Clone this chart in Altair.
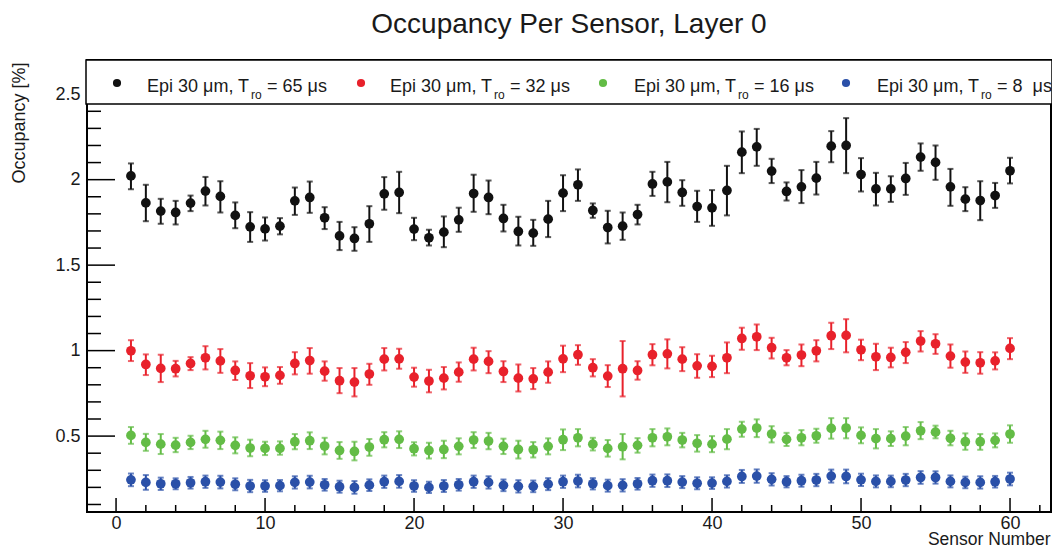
import altair as alt
import pandas as pd

# ---------------- data ----------------
sensors = list(range(1, 61))

black_val = [2.022,1.864,1.816,1.808,1.863,1.933,1.902,1.791,1.724,1.712,1.728,1.876,1.896,1.777,1.671,1.656,1.742,1.917,1.925,1.711,
             1.660,1.693,1.765,1.919,1.896,1.773,1.697,1.687,1.769,1.921,1.970,1.820,1.720,1.728,1.796,1.975,1.987,1.925,1.843,1.835,
             1.937,2.161,2.192,2.050,1.931,1.958,2.009,2.196,2.200,2.030,1.946,1.946,2.007,2.132,2.101,1.958,1.886,1.878,1.907,2.052]
black_hi = [2.095,1.970,1.888,1.876,1.907,2.016,1.991,1.867,1.810,1.779,1.775,1.954,1.989,1.839,1.753,1.722,1.845,2.015,2.046,1.777,
            1.707,1.785,1.836,2.029,1.995,1.853,1.783,1.765,1.876,2.026,2.060,1.861,1.818,1.808,1.853,2.046,2.104,1.997,1.935,1.939,
            2.081,2.282,2.297,2.122,1.984,2.056,2.104,2.284,2.360,2.126,2.040,2.020,2.098,2.212,2.200,2.063,1.956,1.991,1.981,2.128]
black_lo = [1.944,1.757,1.742,1.738,1.816,1.849,1.808,1.716,1.636,1.644,1.680,1.794,1.806,1.711,1.588,1.584,1.636,1.824,1.804,1.646,
            1.615,1.605,1.695,1.812,1.798,1.697,1.615,1.613,1.664,1.816,1.876,1.777,1.627,1.648,1.738,1.905,1.868,1.847,1.753,1.730,
            1.791,2.038,2.081,1.980,1.878,1.863,1.913,2.102,2.038,1.931,1.849,1.870,1.911,2.052,1.999,1.847,1.816,1.763,1.835,1.978]

red_val = [0.999,0.919,0.896,0.894,0.925,0.958,0.940,0.884,0.853,0.847,0.855,0.925,0.942,0.880,0.824,0.816,0.863,0.950,0.952,0.845,
           0.822,0.839,0.874,0.950,0.937,0.878,0.839,0.835,0.874,0.952,0.976,0.900,0.851,0.894,0.884,0.976,0.981,0.950,0.911,0.908,
           0.958,1.071,1.081,1.017,0.958,0.974,0.999,1.087,1.089,1.005,0.964,0.960,0.990,1.056,1.040,0.968,0.933,0.929,0.940,1.013]
red_hi = [1.061,0.978,0.976,0.940,0.962,1.026,1.009,0.937,0.927,0.902,0.904,0.991,1.015,0.937,0.898,0.898,0.923,1.015,1.011,0.900,
          0.888,0.904,0.931,1.017,0.997,0.938,0.919,0.898,0.937,1.029,1.032,0.950,0.915,1.056,0.938,1.038,1.066,1.020,0.979,0.970,
          1.048,1.134,1.153,1.075,1.003,1.036,1.061,1.163,1.184,1.064,1.040,1.017,1.050,1.114,1.096,1.036,0.995,0.991,0.990,1.073]
red_lo = [0.939,0.857,0.816,0.849,0.886,0.890,0.870,0.828,0.781,0.792,0.806,0.861,0.865,0.824,0.751,0.732,0.800,0.884,0.894,0.789,
          0.756,0.773,0.818,0.884,0.868,0.816,0.761,0.775,0.812,0.874,0.917,0.849,0.787,0.732,0.830,0.914,0.896,0.880,0.841,0.845,
          0.868,1.005,1.003,0.954,0.914,0.909,0.937,1.009,0.990,0.944,0.886,0.902,0.927,0.995,0.981,0.900,0.870,0.865,0.890,0.950]

green_val = [0.504,0.463,0.453,0.447,0.463,0.481,0.475,0.446,0.430,0.428,0.428,0.467,0.473,0.442,0.416,0.410,0.436,0.479,0.481,0.426,
             0.416,0.422,0.440,0.477,0.471,0.440,0.422,0.420,0.440,0.479,0.490,0.453,0.428,0.438,0.446,0.490,0.496,0.477,0.458,0.453,
             0.482,0.541,0.547,0.512,0.481,0.490,0.502,0.545,0.547,0.504,0.485,0.485,0.500,0.531,0.523,0.487,0.467,0.467,0.475,0.512]
green_hi = [0.553,0.513,0.512,0.490,0.502,0.531,0.526,0.493,0.479,0.467,0.469,0.512,0.522,0.490,0.465,0.467,0.483,0.523,0.528,0.464,
            0.461,0.473,0.487,0.523,0.519,0.485,0.473,0.465,0.487,0.539,0.541,0.490,0.477,0.512,0.488,0.541,0.545,0.519,0.506,0.500,
            0.541,0.584,0.598,0.558,0.519,0.535,0.543,0.605,0.605,0.551,0.541,0.528,0.553,0.582,0.561,0.531,0.516,0.512,0.516,0.563]
green_lo = [0.455,0.414,0.395,0.406,0.424,0.432,0.424,0.399,0.382,0.389,0.391,0.423,0.424,0.393,0.367,0.358,0.385,0.434,0.430,0.387,
            0.369,0.371,0.393,0.430,0.423,0.395,0.369,0.375,0.393,0.418,0.440,0.416,0.380,0.364,0.403,0.440,0.446,0.434,0.409,0.406,
            0.423,0.496,0.494,0.463,0.442,0.446,0.461,0.485,0.487,0.458,0.428,0.442,0.446,0.482,0.487,0.446,0.420,0.420,0.434,0.461]

blue_val = [0.244,0.229,0.221,0.221,0.227,0.233,0.231,0.218,0.208,0.208,0.210,0.229,0.231,0.215,0.204,0.200,0.213,0.233,0.235,0.208,
            0.200,0.208,0.215,0.233,0.229,0.212,0.206,0.206,0.219,0.233,0.237,0.221,0.210,0.212,0.221,0.239,0.239,0.231,0.224,0.225,
            0.235,0.264,0.266,0.247,0.233,0.239,0.243,0.266,0.264,0.244,0.235,0.235,0.243,0.258,0.258,0.235,0.229,0.229,0.233,0.249]
blue_err = [0.037,0.043,0.036,0.032,0.034,0.036,0.037,0.035,0.036,0.034,0.033,0.036,0.037,0.034,0.035,0.037,0.034,0.036,0.037,0.034,
            0.033,0.035,0.034,0.036,0.036,0.034,0.036,0.034,0.035,0.036,0.037,0.033,0.035,0.036,0.034,0.036,0.037,0.035,0.035,0.034,
            0.036,0.038,0.039,0.036,0.033,0.035,0.036,0.038,0.040,0.036,0.035,0.034,0.036,0.037,0.036,0.035,0.034,0.036,0.034,0.037]

series_names = ["65", "32", "16", "8"]
legend_labels = ["= 65 μs", "= 32 μs", "= 16 μs", "= 8\u00a0\u00a0μs"]
series_colors = ["#111111", "#e8212b", "#63bc46", "#2a50a8"]

x_major = [0, 10, 20, 30, 40, 50, 60]
x_minor = [2, 4, 6, 8, 12, 14, 16, 18, 22, 24, 26, 28, 32, 34, 36, 38, 42, 44, 46, 48, 52, 54, 56, 58, 62]
y_major = [0.5, 1.0, 1.5, 2.0, 2.5]
y_minor = [0.1, 0.2, 0.3, 0.4, 0.6, 0.7, 0.8, 0.9, 1.1, 1.2, 1.3, 1.4, 1.6, 1.7, 1.8, 1.9,
           2.1, 2.2, 2.3, 2.4, 2.6]

# ---------------- tables ----------------
rows = []
blue_lo = [v - e for v, e in zip(blue_val, blue_err)]
blue_hi = [v + e for v, e in zip(blue_val, blue_err)]
for name, vals, los, his in [("65", black_val, black_lo, black_hi),
                             ("32", red_val, red_lo, red_hi),
                             ("16", green_val, green_lo, green_hi),
                             ("8", blue_val, blue_lo, blue_hi)]:
    for s, v, lo, hi in zip(sensors, vals, los, his):
        rows.append({"sensor": s, "value": v, "lo": lo, "hi": hi, "series": name})
df = pd.DataFrame(rows)

W, H = 964, 452
FONT = "Liberation Sans"
TXT = "#1a1a1a"

xscale = alt.Scale(domain=[-1.95, 62.75], nice=False, zero=False)
yscale = alt.Scale(domain=[0.056, 2.70], nice=False, zero=False)
color = alt.Color("series:N", scale=alt.Scale(domain=series_names, range=series_colors), legend=None)

x_axis = alt.Axis(values=x_major, ticks=False, domain=False, grid=False, labelFontSize=18,
                  labelPadding=2, labelFont=FONT, labelColor=TXT,
                  title="Sensor Number", titleFont=FONT, titleFontSize=17.5, titleFontWeight="normal",
                  titleColor=TXT, titleAnchor="end", titleAlign="right", titleX=963, titleY=32,
                  titleBaseline="alphabetic")
y_axis = alt.Axis(values=y_major, format="~g", ticks=False, domain=False, grid=False, labelFontSize=18,
                  labelPadding=7, labelFont=FONT, labelColor=TXT,
                  title="Occupancy [%]", titleFont=FONT, titleFontSize=18, titleFontWeight="normal",
                  titleColor=TXT, titleAnchor="end", titleAngle=270, titleAlign="right",
                  titleX=-63, titleY=2, titleBaseline="alphabetic")


def X(field):
    return alt.X(field, type="quantitative", scale=xscale, axis=x_axis)


def Y(field):
    return alt.Y(field, type="quantitative", scale=yscale, axis=y_axis)


base = alt.Chart(df)

err = base.mark_rule(strokeWidth=2).encode(x=X("sensor"), y=Y("lo"), y2="hi:Q", color=color)
cap_lo = base.mark_tick(orient="horizontal", size=6, thickness=2).encode(x=X("sensor"), y=Y("lo"), color=color)
cap_hi = base.mark_tick(orient="horizontal", size=6, thickness=2).encode(x=X("sensor"), y=Y("hi"), color=color)
points = base.mark_circle(size=95, opacity=1).encode(x=X("sensor"), y=Y("value"), color=color)

# inward ROOT-style ticks
ymaj = alt.Chart(pd.DataFrame({"t": y_major})).mark_rule(color="black", strokeWidth=1.5).encode(
    y=Y("t"), x=alt.value(0), x2=alt.value(28))
ymin = alt.Chart(pd.DataFrame({"t": y_minor})).mark_rule(color="black", strokeWidth=1.5).encode(
    y=Y("t"), x=alt.value(0), x2=alt.value(14))
xmaj = alt.Chart(pd.DataFrame({"t": x_major})).mark_rule(color="black", strokeWidth=1.5).encode(
    x=X("t"), y=alt.value(H), y2=alt.value(H - 14))
xmin = alt.Chart(pd.DataFrame({"t": x_minor})).mark_rule(color="black", strokeWidth=1.5).encode(
    x=X("t"), y=alt.value(H), y2=alt.value(H - 7))

# legend box
one = pd.DataFrame({"a": [0]})
legend_box = alt.Chart(one).mark_rect(fill="white", stroke="black", strokeWidth=1.5).encode(
    x=alt.value(-1), x2=alt.value(965), y=alt.value(0), y2=alt.value(44))

legend_layers = []
marker_x = [30, 274, 516, 759]
text_x = [60, 303, 547, 790]
for i in range(4):
    legend_layers.append(alt.Chart(one).mark_circle(size=66, opacity=1, color=series_colors[i]).encode(
        x=alt.value(marker_x[i]), y=alt.value(23)))
    legend_layers.append(alt.Chart(one).mark_text(
        text="Epi 30 μm, T", font=FONT, fontSize=18, color=TXT, align="left", baseline="alphabetic").encode(
        x=alt.value(text_x[i]), y=alt.value(32)))
    legend_layers.append(alt.Chart(one).mark_text(
        text="ro", font=FONT, fontSize=12, color=TXT, align="left", baseline="alphabetic").encode(
        x=alt.value(text_x[i] + 104), y=alt.value(39)))
    legend_layers.append(alt.Chart(one).mark_text(
        text=legend_labels[i], font=FONT, fontSize=18, color=TXT, align="left", baseline="alphabetic").encode(
        x=alt.value(text_x[i] + 120), y=alt.value(32)))

title = alt.Chart(one).mark_text(
    text="Occupancy Per Sensor, Layer 0", font=FONT, fontSize=28, color=TXT,
    align="center", baseline="alphabetic").encode(x=alt.value(W / 2), y=alt.value(-27))

chart = alt.layer(
    err, cap_lo, cap_hi, points, ymaj, ymin, xmaj, xmin, legend_box, *legend_layers, title
).properties(
    width=W, height=H,
    autosize=alt.AutoSizeParams(type="none"),
    padding={"left": 79, "top": 52, "right": 1, "bottom": 36},
    background="white",
).configure_view(
    stroke="black", strokeWidth=2
)

chart.save("out.html", embed_options={"renderer": "svg", "actions": False})
